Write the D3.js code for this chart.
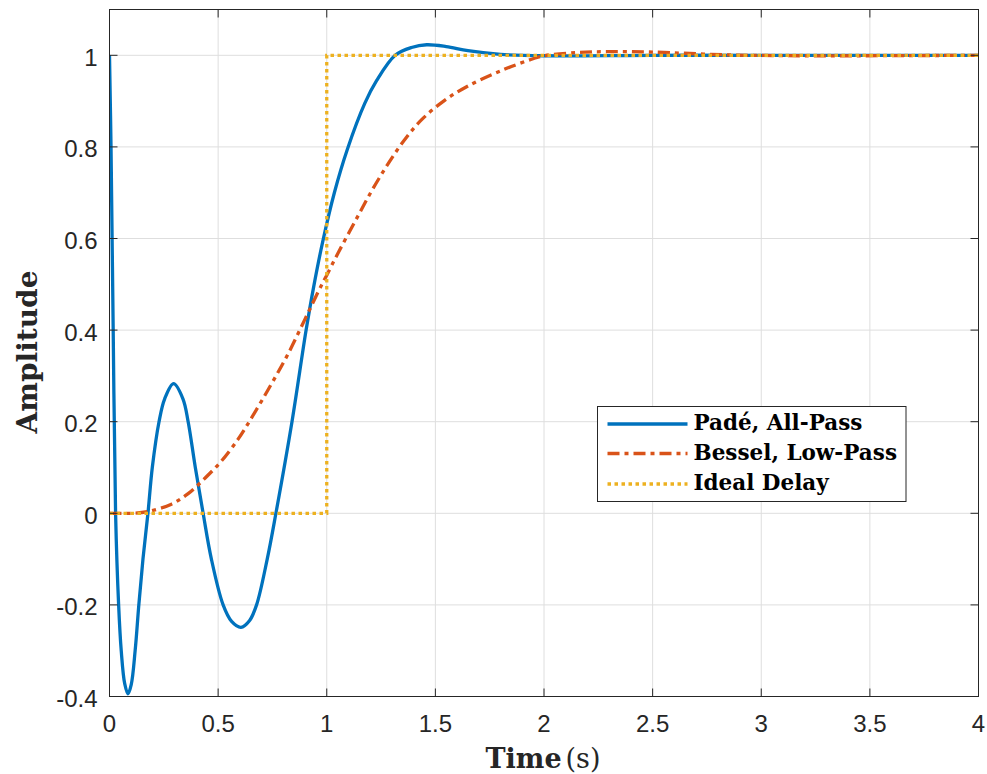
<!DOCTYPE html>
<html>
<head>
<meta charset="utf-8">
<script src="https://cdn.jsdelivr.net/npm/d3@7"></script>
<style>
  html, body { margin: 0; padding: 0; background: #fff; }
  svg { display: block; }
</style>
</head>
<body>
<svg id="chart" width="987" height="774"></svg>
<script>
// Step responses of a delay approximation: Padé all-pass vs. Bessel low-pass vs. ideal delay
const padeTime  = [0, 0.007, 0.017, 0.028, 0.042, 0.054, 0.07, 0.085, 0.1, 0.118, 0.135, 0.154, 0.177,
                   0.197, 0.228, 0.254, 0.295, 0.338, 0.362, 0.395, 0.431, 0.469, 0.523, 0.562, 0.605,
                   0.645, 0.677, 0.726, 0.766, 0.84, 0.905, 0.94, 0.98, 1.035, 1.095, 1.175, 1.23,
                   1.315, 1.39, 1.46, 1.55, 1.65, 1.8, 2.0, 2.5, 3, 4];
const padeValue = [1.0, 0.8, 0.4, 0.0, -0.2, -0.3, -0.372, -0.394, -0.374, -0.3, -0.2, -0.1, 0.0,
                   0.1, 0.2, 0.25, 0.283, 0.25, 0.2, 0.1, 0.0, -0.1, -0.2, -0.236, -0.249,
                   -0.234, -0.2, -0.1, 0.0, 0.2, 0.4, 0.495, 0.59, 0.7, 0.795, 0.895, 0.945,
                   1.0, 1.017, 1.023, 1.019, 1.01, 1.002, 0.999, 1.0, 1.0, 1.0];

const besselTime  = [0, 0.1, 0.177, 0.285, 0.362, 0.438, 0.515, 0.592, 0.638, 0.746, 0.823, 0.9, 0.962,
                     1.0, 1.054, 1.131, 1.208, 1.285, 1.362, 1.438, 1.538, 1.646, 1.8, 1.953, 2.0, 2.15,
                     2.3, 2.5, 2.84, 3.2, 4];
const besselValue = [0, 0.0, 0.004, 0.02, 0.043, 0.076, 0.114, 0.162, 0.196, 0.283, 0.349, 0.424, 0.485,
                     0.52, 0.57, 0.638, 0.705, 0.765, 0.818, 0.86, 0.9, 0.932, 0.966, 0.993, 0.999, 1.006,
                     1.008, 1.007, 1.001, 0.999, 1.0];

const delayTime  = [0, 1, 1, 4];
const delayValue = [0, 0, 1, 1];

const xTicks = [0, 0.5, 1, 1.5, 2, 2.5, 3, 3.5, 4];
const xTickLabels = ["0", "0.5", "1", "1.5", "2", "2.5", "3", "3.5", "4"];
const yTicks = [-0.4, -0.2, 0, 0.2, 0.4, 0.6, 0.8, 1];
const yTickLabels = ["-0.4", "-0.2", "0", "0.2", "0.4", "0.6", "0.8", "1"];

const seriesNames = ["Padé, All-Pass", "Bessel, Low-Pass", "Ideal Delay"];

const svg = d3.select("#chart");
const plotL = 109.5, plotR = 978.5, plotT = 9.5, plotB = 696.5;

const x = d3.scaleLinear().domain([0, 4]).range([plotL, plotR]);
const y = d3.scaleLinear().domain([-0.4, 1.1]).range([plotB, plotT]);

const axisColor = "#262626";
const gridColor = "#dedede";

// grid
const grid = svg.append("g");
grid.selectAll("line.gx").data(xTicks).join("line")
  .attr("x1", d => x(d)).attr("x2", d => x(d))
  .attr("y1", plotT).attr("y2", plotB)
  .attr("stroke", gridColor).attr("stroke-width", 1);
grid.selectAll("line.gy").data(yTicks).join("line")
  .attr("x1", plotL).attr("x2", plotR)
  .attr("y1", d => y(d)).attr("y2", d => y(d))
  .attr("stroke", gridColor).attr("stroke-width", 1);

// clip for data lines
svg.append("clipPath").attr("id", "plotclip")
  .append("rect").attr("x", plotL).attr("y", plotT)
  .attr("width", plotR - plotL).attr("height", plotB - plotT);

const plot = svg.append("g").attr("clip-path", "url(#plotclip)");

const smooth = d3.line().x(d => x(d[0])).y(d => y(d[1])).curve(d3.curveCatmullRom.alpha(0.5));
const straight = d3.line().x(d => x(d[0])).y(d => y(d[1]));

const padePts = padeTime.map((t, i) => [t, padeValue[i]]);
const besselPts = besselTime.map((t, i) => [t, besselValue[i]]);
const delayPts = delayTime.map((t, i) => [t, delayValue[i]]);

const styles = [
  { color: "#0072BD", dash: null },
  { color: "#D95319", dash: "12,5,4,5" },
  { color: "#EDB120", dash: "3.5,3.5" }
];

plot.append("path").attr("d", smooth(padePts))
  .attr("fill", "none").attr("stroke", styles[0].color).attr("stroke-width", 3.3)
  .attr("stroke-linejoin", "round");
plot.append("path").attr("d", smooth(besselPts))
  .attr("fill", "none").attr("stroke", styles[1].color).attr("stroke-width", 3.3)
  .attr("stroke-dasharray", styles[1].dash);
plot.append("path").attr("d", straight(delayPts))
  .attr("fill", "none").attr("stroke", styles[2].color).attr("stroke-width", 3.3)
  .attr("stroke-dasharray", styles[2].dash);

// axes box and ticks
const axes = svg.append("g");
axes.append("rect").attr("x", plotL).attr("y", plotT)
  .attr("width", plotR - plotL).attr("height", plotB - plotT)
  .attr("fill", "none").attr("stroke", axisColor).attr("stroke-width", 1);

const tickLen = 8;
xTicks.forEach(t => {
  axes.append("line").attr("x1", x(t)).attr("x2", x(t)).attr("y1", plotB).attr("y2", plotB - tickLen)
    .attr("stroke", axisColor);
  axes.append("line").attr("x1", x(t)).attr("x2", x(t)).attr("y1", plotT).attr("y2", plotT + tickLen)
    .attr("stroke", axisColor);
});
yTicks.forEach(v => {
  axes.append("line").attr("x1", plotL).attr("x2", plotL + tickLen).attr("y1", y(v)).attr("y2", y(v))
    .attr("stroke", axisColor);
  axes.append("line").attr("x1", plotR).attr("x2", plotR - tickLen).attr("y1", y(v)).attr("y2", y(v))
    .attr("stroke", axisColor);
});

const tickFont = "'Liberation Sans', Arial, Helvetica, sans-serif";
axes.selectAll("text.xt").data(xTicks).join("text")
  .attr("x", d => x(d)).attr("y", 732)
  .attr("text-anchor", "middle")
  .attr("font-family", tickFont).attr("font-size", 24).attr("fill", axisColor)
  .text((d, i) => xTickLabels[i]);
axes.selectAll("text.yt").data(yTicks).join("text")
  .attr("x", 97.5).attr("y", d => y(d) + 10.5)
  .attr("text-anchor", "end")
  .attr("font-family", tickFont).attr("font-size", 24).attr("fill", axisColor)
  .text((d, i) => yTickLabels[i]);

// axis labels
const serif = "'DejaVu Serif', 'Liberation Serif', serif";
const xl = svg.append("text").attr("x", 543).attr("y", 768)
  .attr("text-anchor", "middle").attr("font-family", serif).attr("font-size", 27).attr("fill", axisColor);
xl.append("tspan").attr("font-weight", "bold").text("Time");
xl.append("tspan").attr("dx", 4).text("(s)");

svg.append("text")
  .attr("transform", "translate(37,352) rotate(-90)")
  .attr("text-anchor", "middle").attr("font-family", serif).attr("font-size", 28)
  .attr("font-weight", "bold").attr("fill", axisColor)
  .text("Amplitude");

// legend
const lg = svg.append("g");
lg.append("rect").attr("x", 597.5).attr("y", 406.5).attr("width", 308.5).attr("height", 95)
  .attr("fill", "#fff").attr("stroke", axisColor).attr("stroke-width", 1);
const rowY = [424, 453.5, 484];
seriesNames.forEach((name, i) => {
  lg.append("line").attr("x1", 607.5).attr("x2", 687.5).attr("y1", rowY[i]).attr("y2", rowY[i])
    .attr("stroke", styles[i].color).attr("stroke-width", 3.3)
    .attr("stroke-dasharray", styles[i].dash);
  lg.append("text").attr("x", 693.5).attr("y", rowY[i] + 6)
    .attr("font-family", serif).attr("font-size", 21.5).attr("font-weight", "bold")
    .attr("fill", "#000").text(name);
});
</script>
</body>
</html>
